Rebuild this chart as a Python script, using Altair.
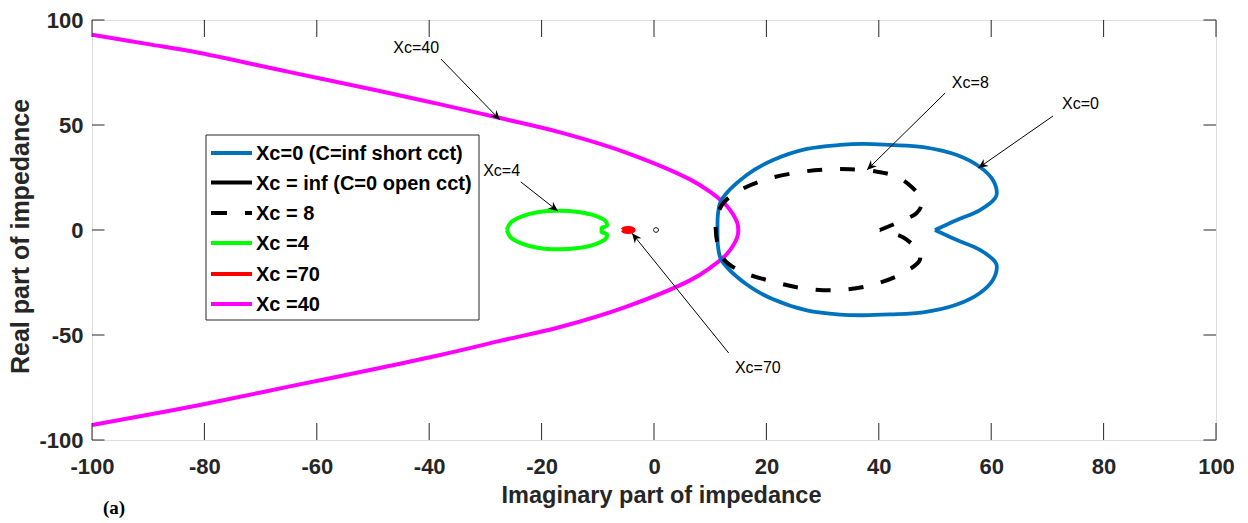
import math
import altair as alt
import pandas as pd

# ---------------- data ----------------
# Xc = 40 (magenta), open-left parabola-like curve
xc40_x = [-100, -90, -80.8, -65, -48.8, -38.0, -27.4, -16.7, -5.0, 6.4, 10.0, 13.0, 14.8, 15.0,
          14.8, 13.0, 10.0, 6.4, -5.0, -16.7, -27.4, -38.0, -48.8, -65, -80.8, -90, -100]
xc40_y = [93.0, 88.5, 84.3, 75.3, 66.2, 59.8, 53.3, 46.5, 36.9, 24.1, 18.1, 11.3, 3.5, 0.0,
          -3.5, -11.3, -18.0, -24.0, -36.6, -46.2, -52.8, -59.5, -65.7, -74.6, -83.3, -88.0, -92.9]

# Xc = 0 (blue), short circuit
xc0_x = [50.0, 53.9, 58.0, 60.7, 61.0, 60.3, 58.0, 53.9, 47.9, 42.0, 37.2, 33.1, 27.2, 21.2,
         16.5, 12.0, 11.4, 11.3, 11.4, 12.0, 16.5, 21.2, 27.2, 33.1, 37.2, 42.0, 47.9, 53.9,
         58.0, 60.3, 61.0, 60.7, 58.0, 53.9, 50.0]
xc0_y = [0.0, 4.8, 9.5, 15.2, 17.5, 23.8, 30.0, 35.7, 39.5, 40.5, 41.0, 40.5, 38.6, 33.3,
         26.2, 14.3, 8.0, 0.0, -8.0, -14.3, -26.0, -33.0, -38.3, -40.3, -40.6, -40.2, -39.2,
         -35.5, -30.0, -23.8, -17.5, -15.2, -9.5, -4.8, 0.0]

# Xc = 8 (black dashed)
xc8_x = [40.2, 44.4, 46.7, 47.6, 47.3, 45.8, 43.2, 39.6, 34.9, 31.3, 26.6, 20.6, 15.3, 12.3,
         11.0, 11.0, 11.2, 12.3, 15.3, 21.2, 27.2, 33.1, 39.0, 44.3, 47.3, 47.0, 44.3, 40.2]
xc8_y = [0.0, 4.8, 8.0, 11.9, 15.9, 20.6, 25.4, 27.8, 28.9, 28.9, 27.8, 24.6, 19.0, 12.7,
         4.8, 0.0, -5.0, -13.5, -19.5, -24.6, -28.0, -28.6, -26.0, -20.5, -14.3, -10.0, -3.5, 0.0]

# Xc = 4 (green)
xc4_x = [-26.2, -25.5, -23.5, -20.5, -17.1, -13.5, -10.5, -8.6, -8.4, -9.3, -9.3, -9.3,
         -8.4, -8.6, -10.5, -13.5, -17.1, -20.5, -23.5, -25.5, -26.2]
xc4_y = [0.0, 3.5, 6.5, 8.6, 9.2, 8.6, 6.8, 4.2, 2.0, 1.0, 0.0, -1.0,
         -2.0, -4.2, -6.8, -8.6, -9.2, -8.6, -6.5, -3.5, 0.0]

# Xc = 70 (red)
xc70_x = [-5.6, -5.3, -4.6, -3.9, -3.6, -3.9, -4.6, -5.3, -5.6]
xc70_y = [0.0, 0.7, 0.9, 0.7, 0.0, -0.7, -0.9, -0.7, 0.0]

# Xc = inf (black, tiny loop)
xcinf_x = [-0.1, 0.05, 0.36, 0.67, 0.8, 0.67, 0.36, 0.05, -0.1]
xcinf_y = [0.0, 0.8, 1.1, 0.8, 0.0, -0.8, -1.1, -0.8, 0.0]

# annotations
ann_text = ["Xc=40", "Xc=4", "Xc=70", "Xc=8", "Xc=0"]
ann_tx = [-46.4, -30.4, 14.4, 53.0, 72.6]
ann_ty = [84.3, 25.7, -68.1, 67.6, 57.6]
arr_x0 = [-37.9, -23.7, 13.3, 51.8, 71.0]
arr_y0 = [81.4, 22.9, -58.6, 65.2, 54.3]
arr_x1 = [-27.4, -17.1, -3.9, 37.9, 57.7]
arr_y1 = [52.4, 9.0, -1.6, 28.6, 29.5]

# legend
legend_labels = ["Xc=0 (C=inf short cct)", "Xc = inf (C=0 open cct)", "Xc = 8",
                 "Xc =4", "Xc =70", "Xc =40"]
legend_colors = ["#0072BD", "#000000", "#000000", "#00FF00", "#FF0000", "#FF00FF"]
legend_dashed = [False, False, True, False, False, False]

x_ticks = [-100, -80, -60, -40, -20, 0, 20, 40, 60, 80, 100]
y_ticks = [-100, -50, 0, 50, 100]

# ---------------- layout ----------------
W, H = 1124, 420
FONT = "Liberation Sans"
TXT = "#262626"

x_axis = alt.Axis(values=x_ticks, title="Imaginary part of impedance", grid=False, domain=False,
                  ticks=False, tickSize=0, labelPadding=16, labelFlush=False, labelOverlap=False,
                  labelExpr="'' + datum.value",
                  labelFont=FONT, labelFontSize=22, labelFontWeight="bold", labelColor=TXT,
                  titleFont=FONT, titleFontSize=23.5, titleFontWeight="bold", titleColor=TXT,
                  titleX=569, titleY=62, titleBaseline="alphabetic", titleAlign="center")
y_axis = alt.Axis(values=y_ticks, title="Real part of impedance", grid=False, domain=False,
                  ticks=False, tickSize=0, labelPadding=9, labelFlush=False, labelOverlap=False,
                  labelExpr="'' + datum.value",
                  labelFont=FONT, labelFontSize=22, labelFontWeight="bold", labelColor=TXT,
                  titleFont=FONT, titleFontSize=25, titleFontWeight="bold", titleColor=TXT,
                  titleAngle=270, titleX=-64, titleY=216, titleBaseline="alphabetic",
                  titleAlign="center")

xs = alt.Scale(domain=[-100, 100], nice=False, zero=False)
ys = alt.Scale(domain=[-100, 100], nice=False, zero=False)


def X(field="x"):
    return alt.X(f"{field}:Q", scale=xs, axis=x_axis)


def Y(field="y"):
    return alt.Y(f"{field}:Q", scale=ys, axis=y_axis)


def curve(xv, yv, color, width, dash=None):
    df = pd.DataFrame({"x": xv, "y": yv, "i": list(range(len(xv)))})
    kw = dict(color=color, strokeWidth=width, clip=True, strokeCap="butt", strokeJoin="round",
              interpolate="catmull-rom")
    if dash:
        kw["strokeDash"] = dash
    return alt.Chart(df).mark_line(**kw).encode(x=X(), y=Y(), order=alt.Order("i:Q"))


layers = []
layers.append(curve(xc40_x, xc40_y, "#FF00FF", 4))
layers.append(curve(xc0_x, xc0_y, "#0072BD", 3.8))
layers.append(curve(xc8_x, xc8_y, "#000000", 4, [15, 18]))
layers.append(curve(xc4_x, xc4_y, "#00FF00", 4))
layers.append(curve(xc70_x, xc70_y, "#FF0000", 4))
layers.append(curve(xcinf_x, xcinf_y, "#000000", 1))

# inward ticks on all four sides
xt = pd.DataFrame({"x": x_ticks})
yt = pd.DataFrame({"y": y_ticks})
layers.append(alt.Chart(xt).mark_rule(color=TXT, strokeWidth=1).encode(
    x=X(), y=alt.value(H), y2=alt.value(H - 17)))
layers.append(alt.Chart(xt).mark_rule(color=TXT, strokeWidth=1).encode(
    x=X(), y=alt.value(0), y2=alt.value(17)))
layers.append(alt.Chart(yt).mark_rule(color=TXT, strokeWidth=1).encode(
    y=Y(), x=alt.value(0), x2=alt.value(12.5)))
layers.append(alt.Chart(yt).mark_rule(color=TXT, strokeWidth=1).encode(
    y=Y(), x=alt.value(W), x2=alt.value(W - 12.5)))

# legend (manual, MATLAB style)
one = pd.DataFrame({"a": [0]})
LX0, LX1, LY0, LY1 = 114, 387, 115, 300
layers.append(alt.Chart(one).mark_rect(fill="white", stroke=TXT, strokeWidth=1).encode(
    x=alt.value(LX0), x2=alt.value(LX1), y=alt.value(LY0), y2=alt.value(LY1)))
row_y = [133, 162.5, 193, 223, 254, 284]
for lab, col, dsh, ry in zip(legend_labels, legend_colors, legend_dashed, row_y):
    kw = dict(color=col, strokeWidth=4)
    if dsh:
        kw["strokeDash"] = [16, 18]
    layers.append(alt.Chart(one).mark_rule(**kw).encode(
        x=alt.value(119), x2=alt.value(160), y=alt.value(ry)))
    layers.append(alt.Chart(one).mark_text(
        text=lab, font=FONT, fontSize=20, fontWeight="bold", color="#000000",
        align="left", baseline="middle").encode(x=alt.value(164), y=alt.value(ry + 1)))

# annotations: arrows and labels
PX, PY = W / 200.0, H / 200.0
angles = []
for a, b, c, d in zip(arr_x0, arr_y0, arr_x1, arr_y1):
    dxp = (c - a) * PX
    dyp = -(d - b) * PY
    angles.append(math.degrees(math.atan2(dxp, -dyp)) % 360)
arr = pd.DataFrame({"x": arr_x0, "y": arr_y0, "x2": arr_x1, "y2": arr_y1, "ang": angles})
layers.append(alt.Chart(arr).mark_rule(color="black", strokeWidth=1).encode(
    x=X(), y=Y(), x2="x2:Q", y2="y2:Q"))
layers.append(alt.Chart(arr).mark_point(
    shape="M0,0 L0.75,1.7 L0,1.15 L-0.75,1.7 Z", filled=True, color="black", opacity=1,
    size=130).encode(x=X("x2"), y=Y("y2"), angle=alt.Angle("ang:Q", scale=None)))
ann = pd.DataFrame({"x": ann_tx, "y": ann_ty, "t": ann_text})
layers.append(alt.Chart(ann).mark_text(font=FONT, fontSize=16, color="black", align="left",
                                       baseline="alphabetic").encode(x=X(), y=Y(), text="t:N"))

# panel tag
layers.append(alt.Chart(one).mark_text(text="(a)", font="Liberation Serif", fontSize=19,
                                       fontWeight="bold", color="black", align="left",
                                       baseline="alphabetic").encode(
    x=alt.value(11), y=alt.value(494)))

chart = alt.layer(*layers).properties(
    width=W, height=H,
    autosize=alt.AutoSizeParams(type="none"),
    padding={"left": 92, "top": 20, "right": 32, "bottom": 83},
).configure_view(stroke=TXT, strokeWidth=1).configure(background="white")

chart.save("out.html", embed_options={"renderer": "svg", "actions": False})
